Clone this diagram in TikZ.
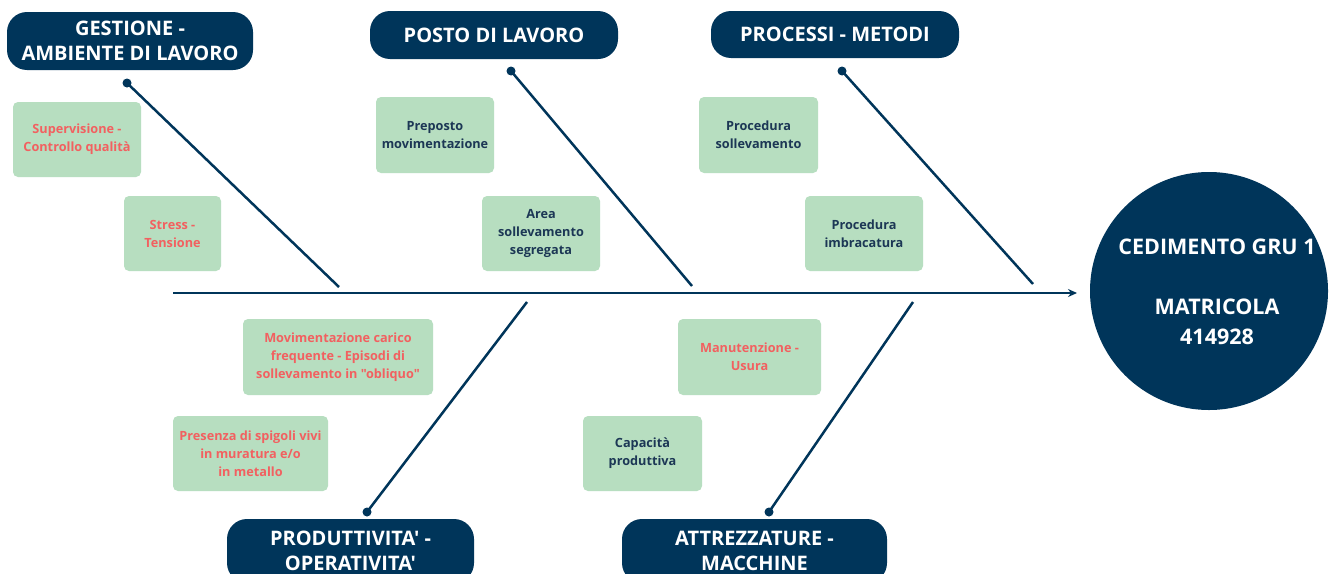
\documentclass[tikz,border=0pt]{standalone}
\usepackage{fontspec}
\setmainfont{Open Sans}[Ligatures=TeXOff]
\usetikzlibrary{arrows.meta}
\definecolor{navy}{RGB}{0,53,90}
\definecolor{lgreen}{RGB}{183,222,192}
\definecolor{warmtxt}{RGB}{242,96,96}
\definecolor{cooltxt}{RGB}{28,55,85}
\begin{document}
\begin{tikzpicture}[x=1pt,y=-1pt,
  head/.style={fill=navy, rounded corners=20pt, text=white, font=\bfseries\fontsize{20}{25}\selectfont, align=center, inner sep=0pt},
  cause/.style={fill=lgreen, rounded corners=5pt, font=\bfseries\fontsize{12.7}{18}\selectfont, align=center, inner sep=0pt},
  warm/.style={cause, text=warmtxt},
  cool/.style={cause, text=cooltxt},
  bone/.style={draw=navy, line width=2.5pt},
  dotnode/.style={circle, fill=navy, inner sep=0pt, minimum size=9pt}
]
\clip (0,0) rectangle (1335,573);
\fill[white] (0,0) rectangle (1335,573);

% headers
\node[head, minimum width=246pt, minimum height=58pt] (ges) at (130,41) {GESTIONE -\\AMBIENTE DI LAVORO};
\node[head, minimum width=248pt, minimum height=48pt] (pos) at (494,35) {POSTO DI LAVORO};
\node[head, minimum width=248pt, minimum height=47pt] (pro) at (835,34.5) {PROCESSI - METODI};
\node[head, minimum width=247pt, minimum height=64pt] (prd) at (350.5,551) {PRODUTTIVITA' -\\OPERATIVITA'};
\node[head, minimum width=265pt, minimum height=64pt] (att) at (754.5,551) {ATTREZZATURE -\\MACCHINE};

% effect
\node[circle, fill=navy, minimum size=238pt, inner sep=0pt] (eff) at (1209,291) {};
\node[text=white, font=\bfseries\fontsize{21.5}{30}\selectfont, align=center] (efft) at (1217,292) {CEDIMENTO GRU 1\\[30pt]MATRICOLA\\414928};

% spine
\coordinate (s0) at (173,293);
\coordinate (s1) at (1077,293);
\draw[bone, -{Stealth[length=9pt,width=8pt]}] (s0) -- (s1);

% bones
\node[dotnode] (d1) at (127,83) {};
\coordinate (e1) at (339,287);
\node[dotnode] (d2) at (511,71) {};
\coordinate (e2) at (692,286);
\node[dotnode] (d3) at (842,71) {};
\coordinate (e3) at (1033,284);
\node[dotnode] (d4) at (367,512) {};
\coordinate (e4) at (527,302);
\node[dotnode] (d5) at (769,512) {};
\coordinate (e5) at (913,302);
\draw[bone] (d1.center) -- (e1);
\draw[bone] (d2.center) -- (e2);
\draw[bone] (d3.center) -- (e3);
\draw[bone] (d4.center) -- (e4);
\draw[bone] (d5.center) -- (e5);

% causes
\node[warm, minimum width=128pt, minimum height=75pt] (sup) at (77,139.5) {Supervisione -\\Controllo qualità};
\node[warm, minimum width=97pt, minimum height=75pt] (str) at (172.5,233.5) {Stress -\\Tensione};
\node[cool, minimum width=118pt, minimum height=76pt] (prep) at (435,135) {Preposto\\movimentazione};
\node[cool, minimum width=118pt, minimum height=75pt] (area) at (541,233.5) {Area\\sollevamento\\segregata};
\node[cool, minimum width=119pt, minimum height=76pt] (psol) at (758.5,135) {Procedura\\sollevamento};
\node[cool, minimum width=118pt, minimum height=75pt] (pimb) at (864,233.5) {Procedura\\imbracatura};
\node[warm, minimum width=190pt, minimum height=76pt] (mov) at (338,357) {Movimentazione carico\\frequente - Episodi di\\sollevamento in "obliquo"};
\node[warm, minimum width=155pt, minimum height=75pt] (pres) at (250.5,453.5) {Presenza di spigoli vivi\\in muratura e/o\\in metallo};
\node[warm, minimum width=143pt, minimum height=76pt] (man) at (749.5,357) {Manutenzione -\\Usura};
\node[cool, minimum width=119pt, minimum height=75pt] (cap) at (642.5,453.5) {Capacità\\produttiva};
\end{tikzpicture}
\end{document}
